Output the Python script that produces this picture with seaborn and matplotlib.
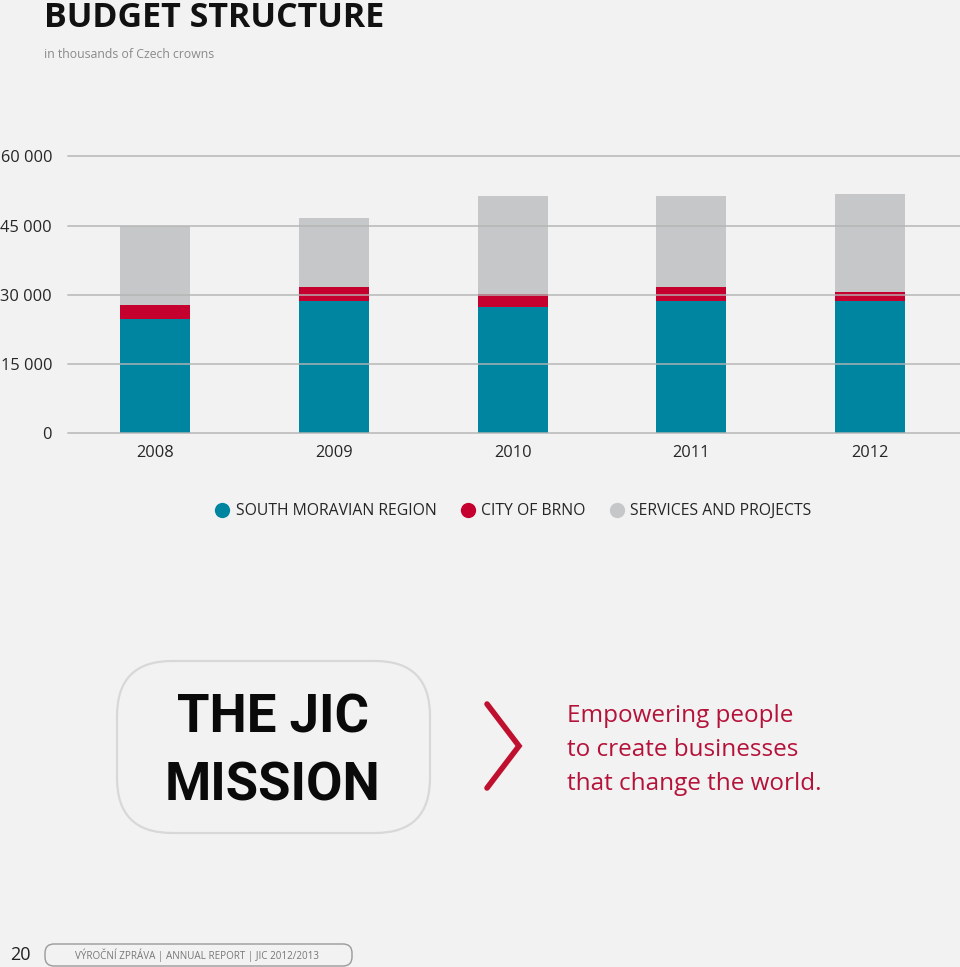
import matplotlib
matplotlib.use("Agg")
import matplotlib.pyplot as plt
import seaborn as sns
import pandas as pd
from matplotlib.patches import FancyBboxPatch
from matplotlib.lines import Line2D
from matplotlib.transforms import IdentityTransform

# ---- data (thousands of CZK) ----
years = ["2008", "2009", "2010", "2011", "2012"]
south_moravian = [24850, 28700, 27400, 28700, 28700]
city_brno = [2950, 3000, 2900, 3000, 1900]
services = [17200, 14900, 21100, 19700, 21200]
series_names = ["SOUTH MORAVIAN REGION", "CITY OF BRNO", "SERVICES AND PROJECTS"]
yticks = [0, 15000, 30000, 45000, 60000]
ytick_labels = ["0", "15 000", "30 000", "45 000", "60 000"]

TEAL = "#0085a1"
RED = "#c5002e"
GREY = "#c6c7c9"
BG = "#f2f2f2"
TXT = "#262626"

sns.set_theme(style="white")
plt.rcParams["font.family"] = ["Open Sans", "DejaVu Sans"]

W, H = 960, 967
fig = plt.figure(figsize=(W / 100, H / 100), dpi=100, facecolor=BG)

def fy(py):
    return 1 - py / H

ax = fig.add_axes([68 / W, fy(433.5), 1 - 68 / W, fy(156.3) - fy(433.5)])
ax.set_facecolor(BG)

df = pd.DataFrame({
    "year": years,
    "teal": south_moravian,
    "red": [a + b for a, b in zip(south_moravian, city_brno)],
    "grey": [a + b + c for a, b, c in zip(south_moravian, city_brno, services)],
})

bw = 70 / 178.75
sns.barplot(data=df, x="year", y="grey", color=GREY, saturation=1, width=bw, ax=ax, zorder=2)
sns.barplot(data=df, x="year", y="red", color=RED, saturation=1, width=bw, ax=ax, zorder=2)
sns.barplot(data=df, x="year", y="teal", color=TEAL, saturation=1, width=bw, ax=ax, zorder=2)
for p in ax.patches:
    p.set_edgecolor("none")
    p.set_linewidth(0)

ax.set_ylim(0, 60000)
ax.set_xlim(-0.487, 4.503)
ax.set_yticks(yticks)
ax.set_yticklabels(ytick_labels)
for y in yticks:
    ax.axhline(y, color="#b4b4b4", lw=1.4, alpha=0.75, zorder=5, clip_on=False)
ax.set_xlabel("")
ax.set_ylabel("")
for s in ax.spines.values():
    s.set_visible(False)
ax.tick_params(axis="y", length=0, pad=11.5, labelsize=11.8, labelcolor=TXT)
ax.tick_params(axis="x", length=0, pad=8.5, labelsize=11.8, labelcolor=TXT)

# ---- title ----
fig.text(44 / W, fy(18), "BUDGET STRUCTURE", fontsize=24.5, fontweight="bold",
         color="#111111", va="center", ha="left")
fig.text(44 / W, fy(55), "in thousands of Czech crowns", fontsize=8.8,
         color="#8a8a8a", va="center", ha="left")

# ---- legend ----
handles = [Line2D([], [], marker="o", ls="none", markersize=11, markerfacecolor=c,
                  markeredgecolor="none") for c in (TEAL, RED, GREY)]
leg = fig.legend(handles, series_names, loc="center", bbox_to_anchor=(513 / W, fy(511)),
                 ncol=3, frameon=False, handletextpad=0.35, columnspacing=1.5,
                 fontsize=11.3, handlelength=1.0)
for t in leg.get_texts():
    t.set_color(TXT)

# ---- mission block ----
ident = IdentityTransform()
box = FancyBboxPatch((117 + 55, H - 833 + 55), 313 - 110, 172 - 110,
                     boxstyle="round,pad=55", transform=ident,
                     facecolor=BG, edgecolor="#d8d8d8", lw=1.6)
fig.add_artist(box)
fig.text(273 / W, fy(752), "THE JIC\nMISSION", fontsize=38, fontweight="bold",
         family=["Liberation Sans Narrow", "Roboto", "DejaVu Sans"],
         color="#0a0a0a", ha="center", va="center", linespacing=1.42)

chev = Line2D([487, 519, 487], [H - 704, H - 746, H - 788], transform=ident,
              color="#c0102f", lw=4, solid_joinstyle="miter")
fig.add_artist(chev)
fig.text(567 / W, fy(750), "Empowering people\nto create businesses\nthat change the world.",
         fontsize=17.5, color="#b5123a", ha="left", va="center", linespacing=1.56)

# ---- footer ----
fig.text(10 / W, fy(955), "20", fontsize=13, color="#222222", ha="left", va="center")
fbox = FancyBboxPatch((45 + 9, H - 966 + 9), 307 - 18, 22 - 18,
                      boxstyle="round,pad=9", transform=ident,
                      facecolor=BG, edgecolor="#9a9a9a", lw=1)
fig.add_artist(fbox)
fig.text(197 / W, fy(955.5), "VÝROČNÍ ZPRÁVA | ANNUAL REPORT | JIC 2012/2013", fontsize=7.1,
         color="#777777", ha="center", va="center")

fig.savefig("out.png", dpi=100, facecolor=BG)
